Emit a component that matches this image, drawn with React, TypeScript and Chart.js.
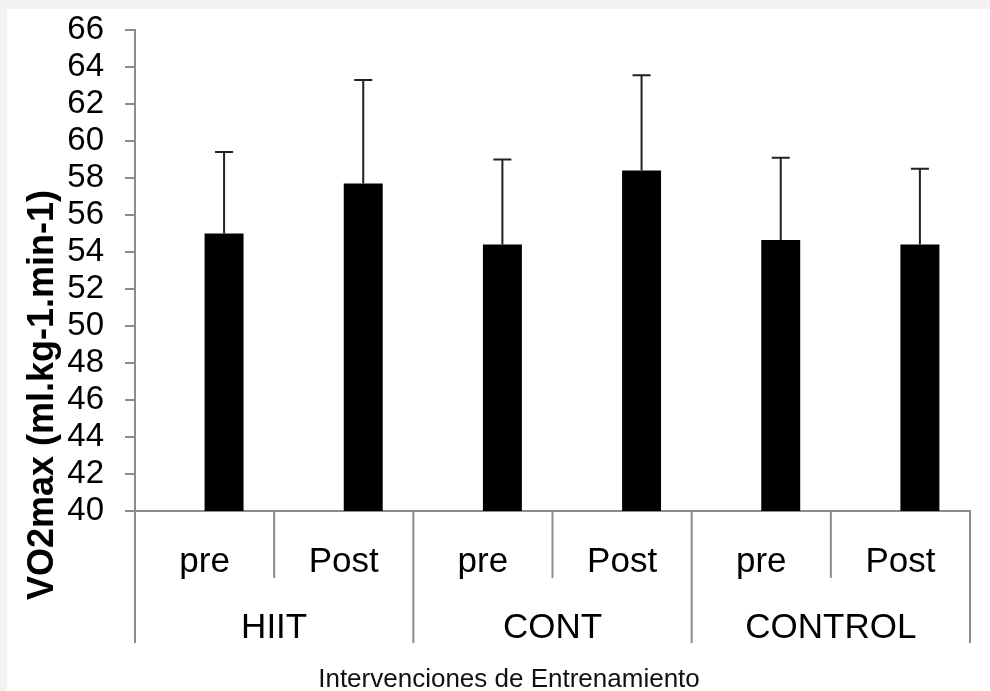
import React, { useEffect, useRef } from 'react';
import { Chart, registerables } from 'chart.js';

Chart.register(...registerables);

// ---- data ----
const categories = ['pre', 'Post', 'pre', 'Post', 'pre', 'Post'];
const groups = ['HIIT', 'CONT', 'CONTROL'];
const groupSize = 2;
const means = [55.0, 57.7, 54.4, 58.4, 54.65, 54.4];
const sdUpper = [4.4, 5.6, 4.6, 5.15, 4.45, 4.1];
const yMin = 40;
const yMax = 66;
const yStep = 2;
const yTitle = 'VO2max (ml.kg-1.min-1)';
const xTitle = 'Intervenciones de Entrenamiento';

const FONT = '"Liberation Sans", Arial, Helvetica, sans-serif';
const AXIS = '#8c8c8c';

export default function App() {
  const ref = useRef<HTMLCanvasElement>(null);

  useEffect(() => {
    if (!ref.current) return;

    const errorBars = {
      id: 'errorBars',
      afterDatasetsDraw(chart: any) {
        const meta = chart.getDatasetMeta(1);
        const y = chart.scales.y;
        const ctx = chart.ctx;
        ctx.save();
        ctx.strokeStyle = '#222';
        ctx.lineWidth = 2;
        meta.data.forEach((bar: any, i: number) => {
          const top = y.getPixelForValue(means[i] + sdUpper[i]);
          ctx.beginPath();
          ctx.moveTo(bar.x, bar.y);
          ctx.lineTo(bar.x, top);
          ctx.moveTo(bar.x - 9, top);
          ctx.lineTo(bar.x + 9, top);
          ctx.stroke();
        });
        ctx.restore();
      },
    };

    const axisLabels = {
      id: 'axisLabels',
      afterDraw(chart: any) {
        const { ctx, chartArea, scales } = chart;
        const x = scales.x;
        const n = categories.length;
        const half = (x.getPixelForValue(1) - x.getPixelForValue(0)) / 2;
        const b = chartArea.bottom;
        ctx.save();
        ctx.strokeStyle = AXIS;
        ctx.lineWidth = 2;
        for (let i = 0; i <= n; i++) {
          const px = i < n ? x.getPixelForValue(i) - half : x.getPixelForValue(n - 1) + half;
          const isGroup = i % groupSize === 0;
          ctx.beginPath();
          ctx.moveTo(px, b);
          ctx.lineTo(px, b + (isGroup ? 132 : 67));
          ctx.stroke();
        }
        ctx.fillStyle = '#000';
        ctx.textAlign = 'center';
        ctx.textBaseline = 'alphabetic';
        ctx.font = `35px ${FONT}`;
        categories.forEach((c, i) => {
          ctx.fillText(c, x.getPixelForValue(i), b + 60.5);
        });
        groups.forEach((g, gi) => {
          const c0 = x.getPixelForValue(gi * groupSize);
          const c1 = x.getPixelForValue(gi * groupSize + groupSize - 1);
          ctx.fillText(g, (c0 + c1) / 2, b + 126.5);
        });
        ctx.font = `26px ${FONT}`;
        ctx.fillStyle = '#111';
        ctx.fillText(xTitle, 502, b + 175.5);
        ctx.save();
        ctx.translate(46, 386);
        ctx.rotate(-Math.PI / 2);
        ctx.font = `bold 36px ${FONT}`;
        ctx.fillStyle = '#000';
        ctx.fillText(yTitle, 0, 0);
        ctx.restore();
        ctx.restore();
      },
    };

    const chart = new Chart(ref.current, {
      type: 'bar',
      data: {
        labels: categories,
        datasets: [
          { data: categories.map(() => null), backgroundColor: 'rgba(0,0,0,0)' },
          { data: means, backgroundColor: '#000', borderWidth: 0 },
        ],
      },
      options: {
        responsive: false,
        animation: false,
        devicePixelRatio: 1,
        categoryPercentage: 0.56,
        barPercentage: 1.0,
        layout: { padding: { left: 0, right: 20, top: 21, bottom: 0 } },
        plugins: { legend: { display: false }, tooltip: { enabled: false } },
        scales: {
          x: {
            ticks: { display: false },
            grid: { display: true, drawOnChartArea: false, drawTicks: false },
            border: { display: true, color: AXIS, width: 2 },
            afterFit: (s: any) => {
              s.height = 180;
              s.paddingLeft = 0;
              s.paddingRight = 0;
            },
          },
          y: {
            min: yMin,
            max: yMax,
            ticks: {
              stepSize: yStep,
              autoSkip: false,
              color: '#000',
              font: { family: FONT, size: 33 },
              padding: 21,
            },
            grid: { drawOnChartArea: false, drawTicks: true, tickLength: 10, color: AXIS, lineWidth: 2 },
            border: { display: true, color: AXIS, width: 2 },
            afterFit: (s: any) => {
              s.width = 128;
              s.paddingTop = 0;
              s.paddingBottom = 0;
            },
          },
        },
      },
      plugins: [errorBars, axisLabels],
    } as any);

    return () => chart.destroy();
  }, []);

  return (
    <div style={{ position: 'absolute', left: 0, top: 0, width: 990, height: 691, background: '#f2f2f2', overflow: 'hidden' }}>
      <canvas
        ref={ref}
        width={983}
        height={682}
        style={{ position: 'absolute', left: 7, top: 9, width: 983, height: 682, background: '#fff' }}
      />
    </div>
  );
}
